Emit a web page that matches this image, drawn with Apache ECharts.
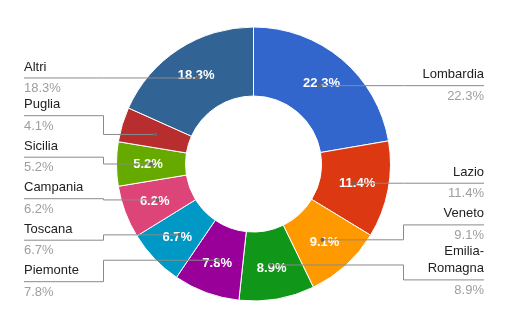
<!DOCTYPE html>
<html>
<head>
<meta charset="utf-8">
<script src="https://cdn.jsdelivr.net/npm/echarts@6/dist/echarts.min.js"></script>
<style>
html,body{margin:0;padding:0;background:#fff;}
#c{width:505px;height:333px;}
</style>
</head>
<body>
<div id="c"></div>
<script>
// ---- data ----
const regions = ['Lombardia','Lazio','Veneto','Emilia-Romagna','Piemonte','Toscana','Campania','Sicilia','Puglia','Altri'];
const shares = [22.3, 11.4, 9.1, 8.9, 7.8, 6.7, 6.2, 5.2, 4.1, 18.3];
const colors = ['#3366cc','#dc3912','#ff9900','#109618','#990099','#0099c6','#dd4477','#66aa00','#b82e2e','#316395'];

// ---- layout constants ----
const FONT = 'Arial, "Liberation Sans", sans-serif';
const CX = 253.5, CY = 164, R = 137, R0 = 68;
const RA = (R + R0) / 2;
const INSIDE_MIN = 5;        // slices below this get no inside label
const LEFT_X = 24, RIGHT_X = 484;
const ELBOW = 150;
const V_PART = 28, N_PART = 13.5, MERGE_SLACK = 4;

function nameLines(n){ return n.length > 10 && n.indexOf('-') > 0 ? [n.slice(0, n.indexOf('-')+1), n.slice(n.indexOf('-')+1)] : [n]; }

const total = shares.reduce((a,b)=>a+b,0);
let cum = 0;
const items = shares.map((v,i)=>{
  const f = (cum + v/2) / total; cum += v;
  const th = f * 2 * Math.PI;
  const ax = CX + RA * Math.sin(th), ay = CY - RA * Math.cos(th);
  return {i, ax, ay, side: ax >= CX ? 'R' : 'L', lines: nameLines(regions[i]).length, L: ay};
});

function place(list){
  list.sort((a,b)=>a.ay-b.ay);
  let clusters = list.map(it=>[it]);
  function layout(cl){
    const offs=[0];
    for(let k=1;k<cl.length;k++) offs.push(offs[k-1] + V_PART + cl[k].lines*N_PART);
    const mo = offs.reduce((a,b)=>a+b,0)/offs.length;
    const ma = cl.reduce((a,b)=>a+b.ay,0)/cl.length;
    cl.forEach((it,k)=>{ it.L = ma + offs[k] - mo; });
  }
  clusters.forEach(layout);
  let changed = true;
  while(changed){
    changed = false;
    for(let k=0;k<clusters.length-1;k++){
      const a = clusters[k], b = clusters[k+1];
      const last = a[a.length-1], first = b[0];
      if(first.L - last.L < V_PART + first.lines*N_PART - MERGE_SLACK){
        clusters.splice(k,2,a.concat(b));
        layout(clusters[k]);
        changed = true; break;
      }
    }
  }
}
place(items.filter(it=>it.side==='L'));
place(items.filter(it=>it.side==='R'));
items.sort((a,b)=>a.i-b.i);

const data = regions.map((n,i)=>({name:n, value:shares[i], itemStyle:{color:colors[i]}}));

const chart = echarts.init(document.getElementById('c'), null, {renderer:'canvas'});
chart.setOption({
  backgroundColor:'#fff',
  animation:false,
  series:[
    {
      type:'pie', center:[CX,CY], radius:[R0,R], startAngle:90, clockwise:true,
      avoidLabelOverlap:false, silent:true,
      itemStyle:{borderColor:'#fff', borderWidth:1},
      label:{show:true, position:'inside', color:'#fff', fontWeight:'bold', fontSize:13, fontFamily:FONT,
        formatter:p=> p.value < INSIDE_MIN ? '' : p.value.toFixed(1)+'%'},
      labelLine:{show:false},
      data:data, z:2
    },
    {
      type:'pie', center:[CX,CY], radius:[R0,R], startAngle:90, clockwise:true,
      avoidLabelOverlap:false, silent:true,
      itemStyle:{color:'rgba(0,0,0,0)', borderWidth:0},
      label:{show:true, position:'outside', fontFamily:FONT,
        formatter:p=>{
          const nl = nameLines(p.name).map(s=>'{n|'+s+'}').join('\n');
          return nl + '\n{v|' + p.value.toFixed(1) + '%}';
        },
        rich:{
          n:{fontSize:13, color:'#222', lineHeight:17, fontFamily:FONT},
          v:{fontSize:13, color:'#9e9e9e', lineHeight:26, fontFamily:FONT}
        }
      },
      labelLine:{show:true, smooth:false, lineStyle:{color:'#8a8a8a', width:1}},
      labelLayout:(p)=>{
        const it = items[p.dataIndex];
        const left = it.side==='L';
        const ex = left ? CX-ELBOW : CX+ELBOW;
        const tx = left ? LEFT_X : RIGHT_X;
        return {
          x: tx,
          y: it.L - 19.5 - (it.lines-1)*17,
          align: left ? 'left' : 'right',
          verticalAlign:'top',
          hideOverlap:false,
          labelLinePoints:[[it.ax,it.ay],[ex,it.ay],[ex,it.L],[tx,it.L]]
        };
      },
      data:data.map(d=>({name:d.name, value:d.value})), z:3
    }
  ],
  graphic: items.map(it=>({type:'circle', shape:{cx:it.ax, cy:it.ay, r:2}, style:{fill:'#666'}, z:10, silent:true}))
});
</script>
</body>
</html>
